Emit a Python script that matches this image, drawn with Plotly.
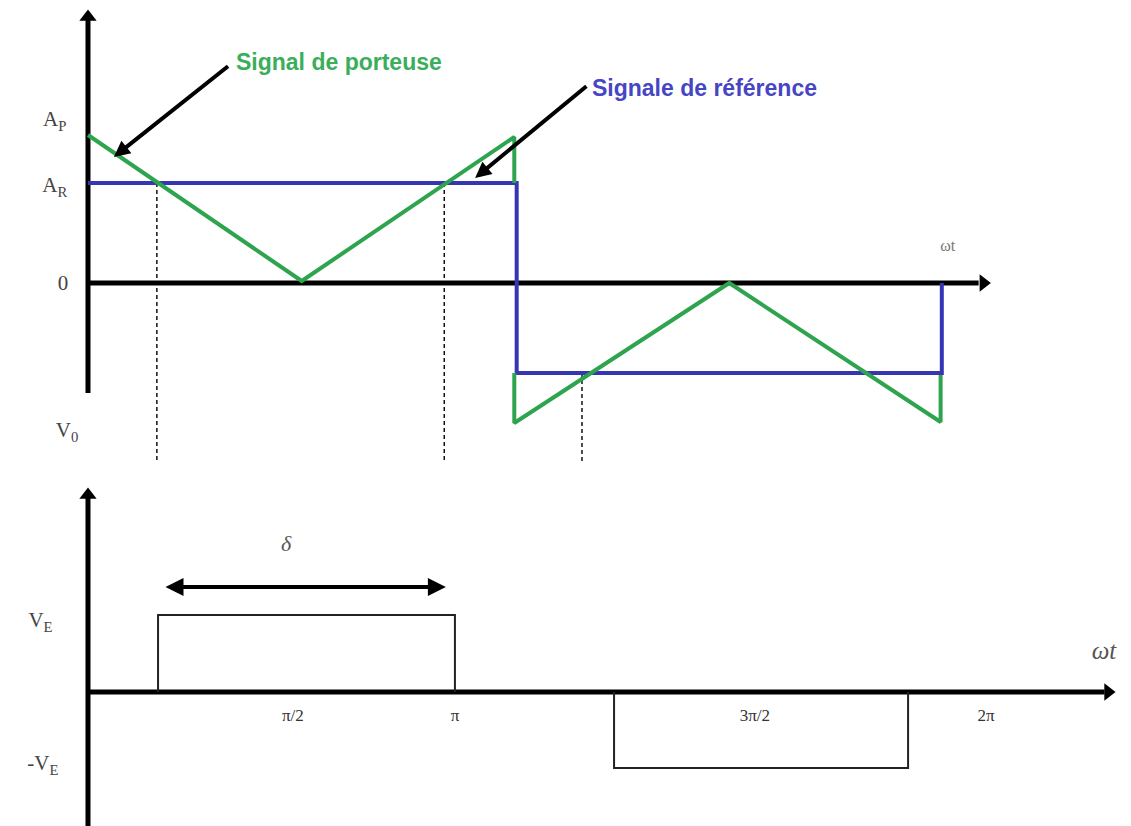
import plotly.graph_objects as go

# ---- top panel: carrier vs reference (angle in degrees, amplitude in a.u.)
carrier_x = [0, 90, 179.5, 179.5, None, 179.5, 179.5, 270, 359, 359]
carrier_y = [1.48, 0.02, 1.46, 1.0, None, -0.90, -1.40, 0.0, -1.39, -0.92]
reference_x = [0, 180.5, 180.5, 359.5, 359.5]
reference_y = [1.0, 1.0, -0.90, -0.90, 0.0]
crossing_x = [29, 150, 208]
crossing_from = [1.0, 1.0, -0.90]
crossing_to = [-1.77, -1.77, -1.80]
top_labels = ["A<sub>P</sub>", "A<sub>R</sub>", "0", "V<sub>0</sub>"]
top_label_x = [-14, -14, -10.5, -8.8]
top_label_y = [1.62, 0.96, -0.02, -1.49]

# ---- bottom panel: output voltage
pulse_x = [29.5, 29.5, 154.5, 154.5, None, 221.5, 221.5, 345.3, 345.3]
pulse_y = [0, 0.77, 0.77, 0, None, 0, -0.76, -0.76, 0]
tick_vals = [86.3, 154.5, 280.8, 378.1]
tick_text = ["π/2", "π", "3π/2", "2π"]
bottom_labels = ["V<sub>E</sub>", "-V<sub>E</sub>"]
bottom_label_y = [0.70, -0.73]

GREEN = "#2fa44f"
BLUE = "#3636b4"
# the page body has an 8px margin, ranges are set so the drawing lands where it should
X_RANGE = [-33.68, 439.16]

fig = go.Figure()

# axes drawn as lines (top)
fig.add_trace(go.Scatter(x=[0, 0], y=[-1.10, 2.70], mode="lines",
                         line=dict(color="black", width=5), xaxis="x", yaxis="y"))
fig.add_trace(go.Scatter(x=[0, 375], y=[0, 0], mode="lines",
                         line=dict(color="black", width=5), xaxis="x", yaxis="y"))
fig.add_trace(go.Scatter(x=[0, 377], y=[2.66, 0], mode="markers",
                         marker=dict(symbol=["triangle-up", "triangle-right"], size=15,
                                     color="black"),
                         xaxis="x", yaxis="y"))

# dashed crossing markers
for cx, c0, c1 in zip(crossing_x, crossing_from, crossing_to):
    fig.add_trace(go.Scatter(x=[cx, cx], y=[c0, c1], mode="lines",
                             line=dict(color="black", width=1.4, dash="4px,3px"),
                             xaxis="x", yaxis="y"))

fig.add_trace(go.Scatter(x=reference_x, y=reference_y, mode="lines",
                         line=dict(color=BLUE, width=4), xaxis="x", yaxis="y"))
fig.add_trace(go.Scatter(x=carrier_x, y=carrier_y, mode="lines",
                         line=dict(color=GREEN, width=4), xaxis="x", yaxis="y"))

fig.add_trace(go.Scatter(x=top_label_x, y=top_label_y, mode="text", text=top_labels,
                         textfont=dict(family="Liberation Serif", size=21, color="#444"),
                         xaxis="x", yaxis="y"))
fig.add_trace(go.Scatter(x=[362], y=[0.36], mode="text", text=["ωt"],
                         textfont=dict(family="Liberation Serif", size=16, color="#777"),
                         xaxis="x", yaxis="y"))

# axes (bottom)
fig.add_trace(go.Scatter(x=[0, 0], y=[-1.40, 2.0], mode="lines",
                         line=dict(color="black", width=5), xaxis="x2", yaxis="y2"))
fig.add_trace(go.Scatter(x=[0, 428], y=[0, 0], mode="lines",
                         line=dict(color="black", width=5), xaxis="x2", yaxis="y2"))
fig.add_trace(go.Scatter(x=[0, 429.5], y=[1.97, 0], mode="markers",
                         marker=dict(symbol=["triangle-up", "triangle-right"], size=15,
                                     color="black"),
                         xaxis="x2", yaxis="y2"))

fig.add_trace(go.Scatter(x=pulse_x, y=pulse_y, mode="lines",
                         line=dict(color="#222", width=2), xaxis="x2", yaxis="y2"))

fig.add_trace(go.Scatter(x=tick_vals, y=[-0.25] * len(tick_vals), mode="text",
                         text=tick_text,
                         textfont=dict(family="Liberation Serif", size=17, color="#333"),
                         xaxis="x2", yaxis="y2"))
fig.add_trace(go.Scatter(x=[-20, -19], y=bottom_label_y, mode="text", text=bottom_labels,
                         textfont=dict(family="Liberation Serif", size=21, color="#444"),
                         xaxis="x2", yaxis="y2"))
fig.add_trace(go.Scatter(x=[83.4], y=[1.47], mode="text", text=["<i>δ</i>"],
                         textfont=dict(family="Liberation Serif", size=22, color="#555"),
                         xaxis="x2", yaxis="y2"))
fig.add_trace(go.Scatter(x=[427.8], y=[0.39], mode="text", text=["<i>ωt</i>"],
                         textfont=dict(family="Liberation Serif", size=25, color="#555"),
                         xaxis="x2", yaxis="y2"))

# callouts
fig.add_annotation(x=10.9, y=1.26, ax=59.6, ay=2.18, xref="x", yref="y",
                   axref="x", ayref="y", text="", showarrow=True,
                   arrowhead=2, arrowsize=0.8, arrowwidth=4, arrowcolor="black", standoff=0)
fig.add_annotation(x=61.5, y=2.21, xref="x", yref="y", text="<b>Signal de porteuse</b>",
                   showarrow=False, xanchor="left",
                   font=dict(family="Liberation Sans", size=23, color="#3aae5a"))
fig.add_annotation(x=163, y=1.05, ax=210.5, ay=1.98, xref="x", yref="y",
                   axref="x", ayref="y", text="", showarrow=True,
                   arrowhead=2, arrowsize=0.8, arrowwidth=4, arrowcolor="black", standoff=0)
fig.add_annotation(x=211.4, y=1.95, xref="x", yref="y", text="<b>Signale de référence</b>",
                   showarrow=False, xanchor="left",
                   font=dict(family="Liberation Sans", size=23, color="#4646c4"))

# delta span arrow
fig.add_annotation(x=150.7, y=1.05, ax=32, ay=1.05, xref="x2", yref="y2",
                   axref="x2", ayref="y2", text="", showarrow=True,
                   arrowhead=2, startarrowhead=2, arrowside="end+start",
                   arrowsize=0.9, startarrowsize=0.9, arrowwidth=4,
                   arrowcolor="black", standoff=0, startstandoff=0)

hidden = dict(visible=False, range=X_RANGE, fixedrange=True)
fig.update_layout(
    width=1123, height=818,
    margin=dict(l=0, r=0, t=0, b=0),
    paper_bgcolor="white", plot_bgcolor="white",
    showlegend=False,
    xaxis=dict(hidden, domain=[0, 1], anchor="y"),
    yaxis=dict(visible=False, range=[-1.95, 2.75], domain=[0.4254, 1], anchor="x"),
    xaxis2=dict(hidden, domain=[0, 1], anchor="y2"),
    yaxis2=dict(visible=False, range=[-1.34, 2.14], domain=[0, 0.4254], anchor="x2"),
)

fig.write_html("out.html")
